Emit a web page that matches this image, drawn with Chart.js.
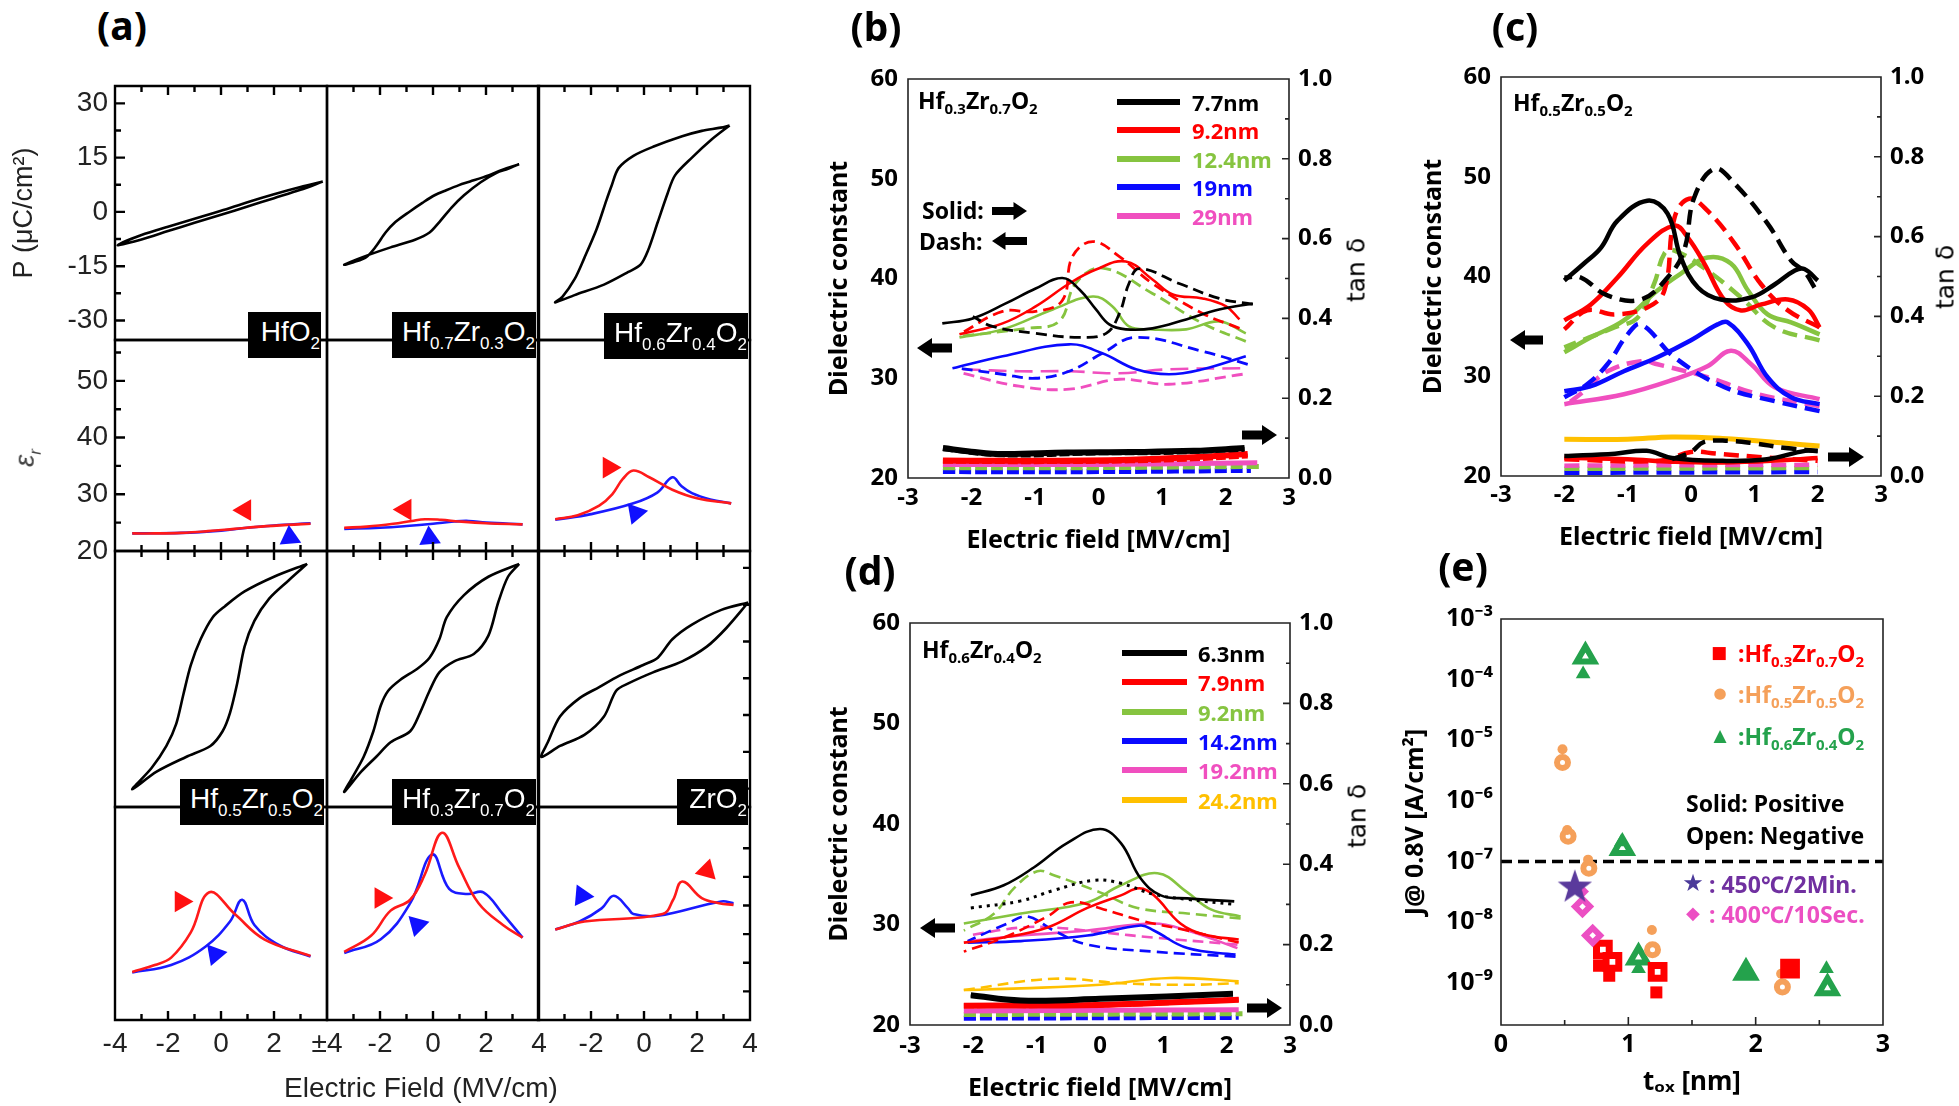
<!DOCTYPE html>
<html><head><meta charset="utf-8">
<script src="https://cdn.jsdelivr.net/npm/chart.js@4.4.1/dist/chart.umd.min.js"></script>
<style>
body{margin:0;width:1959px;height:1106px;background:#fff;position:relative;overflow:hidden;font-family:"Noto Sans","Noto Sans CJK KR",sans-serif;}
canvas{position:absolute;}
.ov{position:absolute;white-space:nowrap;z-index:5;}
.pl{font-weight:bold;font-size:39px;transform:translate(-50%,-50%);line-height:1;}
.lb{background:#000;color:#fff;font-family:"Liberation Sans",Arial,sans-serif;font-size:28px;text-align:right;line-height:40px;height:46px;box-sizing:border-box;padding-right:1px;overflow:hidden;}
.lb sub{font-size:17px;vertical-align:-8px;line-height:0;}
.fm{font-weight:bold;font-size:23px;line-height:1;transform:translateY(-50%);}
.fm sub{font-size:15px;vertical-align:-5px;line-height:0;}
.lg{font-weight:bold;font-size:22px;line-height:1;transform:translateY(-50%);}
.ax{font-family:"Liberation Sans",Arial,sans-serif;color:#222;}
.tan{font-family:"DejaVu Sans",sans-serif;font-size:25px;transform:translate(-50%,-50%) rotate(-90deg);line-height:1;}
</style></head><body>
<script>
// ---------------- DATA ----------------
// (a) P-E loops [E (MV/cm), P (uC/cm2)]  (sweep down then up)
const pe_HfO2 = [[3.84,8.4],[3,6.9],[2,4.9],[1,2.7],[0,0.3],[-1,-1.9],[-2,-4.1],[-3,-6.4],[-3.9,-9.2],[-3,-7.6],[-2,-5.3],[-1,-3.0],[0,-0.8],[1,1.5],[2,3.8],[3,6.1],[3.84,8.4]];
const pe_Hf07 = [[3.25,13.2],[2.6,11.6],[2.09,10.1],[1.4,8.4],[0.98,7.4],[0.5,6.0],[0.06,4.6],[-0.4,2.5],[-0.86,0.2],[-1.42,-2.8],[-1.79,-5.7],[-2.15,-9.5],[-2.52,-12.5],[-3.0,-13.9],[-3.35,-14.6],[-2.9,-13.2],[-2.4,-11.8],[-1.6,-9.8],[-0.68,-7.7],[-0.13,-5.7],[0.24,-2.8],[0.7,1.2],[1.17,4.6],[1.8,8.2],[2.4,10.8],[2.83,11.9],[3.25,13.2]];
const pe_Hf06 = [[3.23,23.9],[2.9,23.3],[2.18,22.4],[1.44,20.9],[0.34,18.0],[-0.40,15.5],[-0.96,12.1],[-1.23,7.1],[-1.42,3.2],[-1.79,-4.8],[-2.25,-12.7],[-2.62,-18.6],[-3.08,-23.5],[-3.35,-25],[-2.62,-23],[-1.51,-20.1],[-0.59,-16.6],[-0.13,-14.6],[0.15,-10.7],[0.52,-2.8],[0.89,5.1],[1.17,10.1],[1.81,15.0],[2.55,20.0],[3.23,23.9]];
const pe_Hf05 = [[3.25,31.1],[2.0,27.6],[0.89,23.6],[0.15,19.6],[-0.31,16.6],[-0.77,10.6],[-1.14,3.6],[-1.42,-4.4],[-1.69,-12.4],[-2.06,-18.4],[-2.62,-24.4],[-3.35,-30.2],[-2.43,-25.4],[-1.32,-21.4],[-0.40,-18.4],[0.06,-14.4],[0.34,-9.4],[0.61,-1.4],[0.89,8.6],[1.26,15.6],[1.81,21.6],[2.55,26.6],[3.25,31.1]];
const pe_Hf03 = [[3.25,31.1],[2.09,27.6],[1.17,22.6],[0.52,16.6],[0.24,10.6],[-0.13,5.6],[-0.59,2.6],[-1.23,-0.4],[-1.69,-3.4],[-1.97,-7.4],[-2.25,-14.4],[-2.62,-21.4],[-3.08,-27.4],[-3.35,-30.9],[-2.71,-25.4],[-2.15,-21.4],[-1.60,-17.4],[-0.86,-14.4],[-0.49,-9.4],[-0.13,-3.4],[0.24,1.6],[0.80,4.6],[1.54,6.6],[2.09,11.6],[2.46,20.6],[2.83,27.6],[3.25,31.1]];
const pe_ZrO2 = [[3.93,20.6],[2.92,18.6],[1.81,14.6],[1.07,10.6],[0.52,5.6],[-0.03,3.6],[-0.96,0.6],[-1.69,-2.4],[-2.43,-5.4],[-3.17,-10.4],[-3.63,-17.4],[-3.87,-21.4],[-3.17,-18.4],[-2.25,-15.4],[-1.51,-10.4],[-1.05,-3.4],[-0.59,-1.4],[0.34,1.6],[1.44,4.6],[2.37,8.6],[3.10,13.6],[3.93,20.6]];
// (a) permittivity curves: red (down sweep), blue (up sweep)
const er_HfO2_r = [[-3.35,23.1],[-2.5,23.1],[-1.5,23.2],[-0.5,23.5],[0.5,23.9],[1.5,24.3],[2.5,24.6],[3.38,24.8]];
const er_HfO2_b = [[-3.35,23.1],[-1.5,23.2],[0,23.6],[1,24.1],[2,24.5],[3.38,24.9]];
const er_Hf07_r = [[-3.35,24.1],[-2.5,24.3],[-1.5,24.8],[-0.8,25.3],[-0.3,25.6],[0.3,25.5],[1,25.2],[2,24.9],[3.38,24.7]];
const er_Hf07_b = [[-3.35,23.9],[-2,24.1],[-1,24.4],[0,24.8],[0.8,25.2],[1.35,25.3],[2,25.0],[3.38,24.7]];
const er_Hf06_r = [[-3.35,25.6],[-2.5,26.3],[-1.69,28.0],[-1.2,30.0],[-0.8,32.7],[-0.4,34.2],[0.2,33.0],[1.07,30.8],[2,29.3],[3.29,28.4]];
const er_Hf06_b = [[-3.35,25.5],[-2,26.5],[-0.4,28.4],[0.5,30.3],[1.07,33.0],[1.4,31.5],[1.81,30.2],[2.5,29.1],[3.29,28.4]];
const er_Hf05_r = [[-3.35,28.4],[-2.5,29.6],[-1.88,30.9],[-1.14,35.3],[-0.44,42.3],[0.52,38.5],[1.63,34.1],[3.38,31.2]];
const er_Hf05_b = [[-3.35,28.3],[-1.88,29.6],[-0.59,32.8],[0.34,37.2],[0.80,41.0],[1.26,36.6],[2.18,33.1],[3.38,31.1]];
const er_Hf03_r = [[-3.35,31.9],[-2.34,34.7],[-1.60,39.1],[-0.86,41.0],[-0.31,45.4],[0.34,52.7],[0.98,46.7],[1.72,40.4],[2.64,36.6],[3.38,34.4]];
const er_Hf03_b = [[-3.35,31.7],[-1.97,34.1],[-0.86,40.4],[-0.03,48.9],[0.61,42.9],[1.3,42.0],[1.90,42.3],[2.64,38.5],[3.38,34.4]];
const er_ZrO2_r = [[-3.35,35.8],[-2.25,37.2],[0.70,38.5],[1.1,41.0],[1.44,44.2],[2.18,41.3],[2.83,40.4],[3.38,40.1]];
const er_ZrO2_b = [[-3.35,35.8],[-2.43,37.2],[-1.6,39.5],[-1.14,41.7],[-0.6,39.5],[-0.40,38.5],[0.52,38.2],[2.92,40.7],[3.38,40.4]];
// sweep-direction markers [E, eps_r, rotation]
const tri_red  = [[0.9,27.2,270],[-1.05,27.3,270],[-1.32,34.7,210],[-1.51,40.7,210],[-1.97,41.3,210],[2.37,46.1,135]];
const tri_blue = [[2.6,22.4,235],[-0.13,22.3,235],[-0.31,26.7,200],[-0.22,31.5,200],[-0.59,36.6,195],[-2.34,41.7,215]];
const a_names = ['HfO<sub>2</sub>','Hf<sub>0.7</sub>Zr<sub>0.3</sub>O<sub>2</sub>','Hf<sub>0.6</sub>Zr<sub>0.4</sub>O<sub>2</sub>','Hf<sub>0.5</sub>Zr<sub>0.5</sub>O<sub>2</sub>','Hf<sub>0.3</sub>Zr<sub>0.7</sub>O<sub>2</sub>','ZrO<sub>2</sub>'];
const a_P_ticks = [-30,-15,0,15,30];
const a_E_ticks = [-4,-2,0,2,4];
const a_er_ticks = [20,30,40,50];

// (b) Hf0.3Zr0.7O2 : dielectric constant (solid = up sweep, dash = down sweep), tan delta
const b_labels = ['7.7nm','9.2nm','12.4nm','19nm','29nm'];
const b_K_s = [[-2.46,35.5],[-1.98,36.0],[-1.46,37.5],[-0.99,39.0],[-0.57,40.05],[-0.30,38.9],[-0.04,36.9],[0.17,35.4],[0.43,34.9],[0.85,35.0],[1.38,35.9],[1.90,36.9],[2.43,37.5]];
const b_K_d = [[2.43,37.4],[1.90,38.0],[1.27,39.5],[0.64,41.0],[0.48,39.5],[0.33,36.5],[0.12,34.5],[-0.30,34.1],[-0.99,34.5],[-1.67,35.2],[-1.98,36.2]];
const b_R_s = [[-2.19,34.4],[-1.51,35.5],[-0.99,37.2],[-0.46,39.5],[-0.04,40.9],[0.43,41.7],[0.85,39.9],[1.17,38.4],[1.64,38.0],[2.01,37.2],[2.22,35.9]];
const b_R_d = [[2.22,35.0],[1.64,36.5],[0.85,39.5],[0.33,42.2],[-0.09,43.7],[-0.41,42.2],[-0.57,37.8],[-0.99,36.7],[-1.51,36.7],[-2.19,34.4]];
const b_G_s = [[-2.19,34.1],[-1.51,34.9],[-0.72,36.9],[-0.09,38.2],[0.22,37.2],[0.48,35.2],[0.85,34.9],[1.38,34.9],[1.90,35.7],[2.32,34.5]];
const b_G_d = [[2.32,33.7],[1.64,35.5],[0.85,38.5],[0.06,41.05],[-0.36,39.5],[-0.62,35.7],[-1.14,35.0],[-2.19,34.2]];
const b_B_s = [[-2.30,31.0],[-1.51,32.2],[-0.46,33.4],[0.06,32.5],[0.59,30.9],[1.11,30.4],[1.64,30.9],[2.32,32.2]];
const b_B_d = [[2.35,31.4],[1.64,32.7],[0.59,34.1],[0.06,32.5],[-0.46,30.7],[-0.99,30.0],[-1.51,30.4],[-2.19,31.0]];
const b_P_s = [[-2.14,30.9],[-1.25,30.7],[-0.46,30.7],[0.33,30.5],[1.11,30.9],[2.27,31.0]];
const b_P_d = [[2.27,30.4],[1.11,29.4],[0.33,29.9],[-0.46,28.9],[-1.25,29.2],[-2.14,30.5]];
const b_tK_s = [[-2.45,0.075],[-2.0,0.066],[-1.5,0.06],[-0.5,0.064],[0.5,0.065],[1.5,0.068],[2.3,0.075]];
const b_tK_d = [[-2.45,0.073],[-1.5,0.058],[0,0.063],[1,0.064],[2.3,0.072]];
const b_tR_s = [[-2.45,0.044],[-1,0.043],[0.5,0.046],[1.5,0.052],[2.35,0.06]];
const b_tR_d = [[-2.45,0.042],[-1,0.041],[0.5,0.043],[1.5,0.048],[2.35,0.055]];
const b_tP = [[-2.45,0.034],[0,0.034],[2.5,0.038]];
const b_tG = [[-2.45,0.026],[0,0.026],[2.55,0.029]];
const b_tB = [[-2.45,0.016],[0,0.016],[2.4,0.019]];

// (c) Hf0.5Zr0.5O2
const c_K_s = [[-2.0,39.6],[-1.69,41.3],[-1.42,42.9],[-1.16,45.6],[-0.69,47.6],[-0.37,46.3],[-0.16,41.9],[0.11,38.9],[0.47,37.7],[0.95,37.9],[1.32,39.2],[1.64,40.6],[1.79,40.75],[2.0,39.6]];
const c_K_d = [[1.95,38.9],[1.79,40.5],[1.58,41.6],[1.21,45.3],[0.69,49.3],[0.37,50.8],[0.05,47.9],[-0.11,42.6],[-0.37,39.9],[-0.79,37.7],[-1.32,38.1],[-1.74,39.9],[-2.0,39.9]];
const c_R_s = [[-2.0,35.6],[-1.58,37.2],[-1.16,39.9],[-0.69,43.3],[-0.26,45.1],[-0.05,43.9],[0.21,41.3],[0.53,37.6],[0.79,36.6],[1.11,37.2],[1.53,37.7],[1.85,36.7],[2.03,34.9]];
const c_R_d = [[2.03,34.9],[1.53,36.6],[1.11,39.2],[0.69,43.3],[0.26,46.6],[-0.03,47.8],[-0.26,45.9],[-0.42,38.6],[-0.69,36.9],[-1.21,36.2],[-1.64,36.6],[-2.0,34.7]];
const c_G_s = [[-2.0,32.4],[-1.58,33.9],[-1.06,35.6],[-0.53,38.6],[-0.16,40.3],[0.26,41.9],[0.63,41.3],[0.90,38.6],[1.21,36.2],[1.58,35.4],[2.03,34.2]];
const c_G_d = [[2.03,33.6],[1.32,34.9],[0.79,37.9],[0.26,40.6],[-0.26,42.6],[-0.42,42.3],[-0.58,39.3],[-0.84,35.9],[-1.21,34.9],[-2.0,32.9]];
const c_B_s = [[-2.0,28.5],[-1.58,29.0],[-1.06,30.5],[-0.53,31.9],[0,33.6],[0.42,35.2],[0.58,35.4],[0.90,33.2],[1.21,29.9],[1.58,27.9],[2.03,27.2]];
const c_B_d = [[2.03,26.5],[1.32,27.5],[0.53,28.9],[-0.26,31.9],[-0.79,35.2],[-1.0,34.2],[-1.32,31.2],[-1.64,29.2],[-2.0,27.9]];
const c_P_s = [[-2.0,27.2],[-1.06,28.2],[-0.26,29.7],[0.26,31.0],[0.63,32.55],[0.95,31.2],[1.32,28.9],[2.03,27.7]];
const c_P_d = [[2.03,27.0],[1.06,28.2],[0.26,29.9],[-0.53,31.2],[-0.79,31.5],[-1.32,30.5],[-1.69,28.5],[-2.0,27.0]];
const c_tO = [[-2,0.092],[-1,0.092],[-0.3,0.098],[0.5,0.094],[1.5,0.082],[2.03,0.075]];
const c_tK_s = [[-2,0.05],[-1.2,0.056],[-0.7,0.063],[-0.3,0.045],[0.5,0.038],[1.2,0.042],[1.8,0.063],[2,0.062]];
const c_tK_d = [[-0.3,0.042],[0,0.06],[0.2,0.085],[0.6,0.088],[1,0.082],[1.5,0.07],[2,0.063]];
const c_tR_s = [[-2,0.046],[-1,0.042],[-0.3,0.036],[0.5,0.034],[1.5,0.04],[2,0.045]];
const c_tR_d = [[-2,0.042],[-0.5,0.038],[0,0.06],[0.4,0.056],[1.2,0.046],[2,0.038]];
const c_tP = [[-2,0.026],[2,0.028]];
const c_tG = [[-2,0.018],[2,0.02]];
const c_tB = [[-2,0.008],[2,0.01]];

// (d) Hf0.6Zr0.4O2
const d_labels = ['6.3nm','7.9nm','9.2nm','14.2nm','19.2nm','24.2nm'];
const d_K_s = [[-2.04,32.9],[-1.52,33.9],[-1.04,35.7],[-0.52,38.1],[0,39.5],[0.33,38.1],[0.64,34.6],[0.96,32.9],[1.38,32.6],[2.12,32.3]];
const d_K_dot = [[-2.04,31.65],[-1.25,32.35],[-0.73,33.4],[-0.09,34.4],[0.33,34.1],[0.85,33.0],[1.38,32.5],[2.12,32.0]];
const d_R_s = [[-2.15,28.2],[-1.52,28.7],[-0.83,29.7],[-0.2,31.65],[0.33,32.9],[0.62,33.6],[0.85,32.9],[1.27,30.1],[1.64,29.0],[2.19,28.5]];
const d_R_d = [[2.19,28.2],[1.38,29.4],[0.64,30.4],[0.06,31.5],[-0.46,32.2],[-0.83,30.8],[-1.52,28.7],[-2.15,27.3]];
const d_G_s = [[-2.15,30.1],[-1.25,31.1],[-0.2,32.2],[0.33,33.9],[0.91,35.1],[1.38,33.2],[1.75,31.5],[2.22,30.8]];
const d_G_d = [[2.22,30.6],[1.38,31.1],[0.59,31.65],[0,33.2],[-0.73,34.9],[-0.99,35.3],[-1.36,33.6],[-1.67,31.1],[-2.15,29.4]];
const d_B_s = [[-2.09,28.2],[-1.25,28.35],[-0.2,28.9],[0.64,29.9],[0.85,29.4],[1.38,27.65],[2.14,27.0]];
const d_B_d = [[2.14,26.8],[0.85,27.3],[-0.2,28.0],[-0.73,29.4],[-1.15,30.8],[-1.46,30.1],[-2.09,28.35]];
const d_P_s = [[-2.09,28.35],[-1.25,28.9],[-0.2,29.4],[0.85,30.1],[1.38,29.4],[2.17,27.65]];
const d_P_d = [[2.17,28.0],[0.85,28.7],[0.06,29.2],[-0.73,29.7],[-1.25,29.7],[-2.09,28.9]];
const d_tO_s = [[-2.15,0.087],[-1.25,0.091],[0,0.1],[1.1,0.117],[2.19,0.109]];
const d_tO_d = [[-2.15,0.087],[-0.73,0.115],[0.33,0.104],[1.38,0.1],[2.19,0.104]];
const d_tK = [[-2.04,0.074],[-1.25,0.061],[0,0.065],[2.1,0.078]];
const d_tR = [[-2.15,0.048],[0,0.05],[2.19,0.063]];
const d_tP = [[-2.15,0.035],[2.19,0.038]];
const d_tG = [[-2.15,0.026],[2.25,0.028]];
const d_tB = [[-2.15,0.017],[2.19,0.019]];

// (e) leakage current density J @ 0.8 V vs t_ox [nm, A/cm2]
const e_R_pos = [[0.77,1.9e-9],[0.85,1.3e-9],[1.22,6.9e-10],[2.25,1.65e-9]];
const e_R_neg = [[0.80,3.5e-9],[0.875,2.2e-9],[1.23,1.5e-9],[2.27,1.7e-9]];
const e_O_pos = [[0.483,7.1e-6],[0.52,3.3e-7],[0.684,1.07e-7],[1.185,7.4e-9],[2.20,1.4e-9]];
const e_O_neg = [[0.483,4.3e-6],[0.527,2.6e-7],[0.69,7.7e-8],[1.19,3.5e-9],[2.21,8.5e-10]];
const e_G_pos = [[0.645,1.24e-4],[0.945,2.1e-7],[1.08,1.7e-9],[1.92,1.5e-9],[2.556,1.7e-9]];
const e_G_neg = [[0.663,2.4e-4],[0.953,1.66e-7],[1.08,2.6e-9],[1.924,1.45e-9],[2.564,8.1e-10]];
const e_star = [[0.58,4.0e-8]];
const e_D_pos = [[0.64,3.2e-8]];
const e_D_neg = [[0.64,1.8e-8],[0.72,6.0e-9]];
const e_limit = [[0,1e-7],[3,1e-7]];
const e_yTicks = [1e-9,1e-8,1e-7,1e-6,1e-5,1e-4,1e-3];
const e_xTicks = [0,1,2,3];

// ---------------- HELPERS ----------------
Chart.defaults.animation = false;
Chart.defaults.responsive = false;
Chart.defaults.devicePixelRatio = 1;
Chart.defaults.events = [];
const FA = '"Liberation Sans", Arial, sans-serif';
const FB = '"Noto Sans", "Noto Sans CJK KR", sans-serif';
const fa = s => ({family: FA, size: s});
const fb = s => ({family: FB, size: s, weight: 'bold'});
const FRAMES = {};
const K='#000', R='#ff0000', G='#86c440', B='#0a0aff', P='#f04fbf', O='#ffc000';

Chart.register({
  id: 'frame',
  afterDatasetsDraw(chart) {
    const o = FRAMES[chart.canvas.id]; if (!o) return;
    const {ctx, chartArea: a, scales} = chart;
    ctx.save();
    ctx.strokeStyle = o.color || '#000'; ctx.lineWidth = o.lw || 2; ctx.lineCap = 'square';
    const s = o.sides || 'ltrb';
    ctx.beginPath();
    if (s.includes('t')) { ctx.moveTo(a.left, a.top); ctx.lineTo(a.right, a.top); }
    if (s.includes('b')) { ctx.moveTo(a.left, a.bottom); ctx.lineTo(a.right, a.bottom); }
    if (s.includes('l')) { ctx.moveTo(a.left, a.top); ctx.lineTo(a.left, a.bottom); }
    if (s.includes('r')) { ctx.moveTo(a.right, a.top); ctx.lineTo(a.right, a.bottom); }
    ctx.stroke();
    ctx.lineCap = 'butt'; ctx.lineWidth = o.tlw || o.lw || 2;
    (o.ticks || []).forEach(t => {
      const sc = scales[t.scale];
      ctx.beginPath();
      t.values.forEach(v => {
        const p = sc.getPixelForValue(v);
        if (t.side === 'bottom') { ctx.moveTo(p, a.bottom); ctx.lineTo(p, a.bottom - t.len); }
        else if (t.side === 'top') { ctx.moveTo(p, a.top); ctx.lineTo(p, a.top + t.len); }
        else if (t.side === 'left') { ctx.moveTo(a.left, p); ctx.lineTo(a.left + t.len, p); }
        else { ctx.moveTo(a.right, p); ctx.lineTo(a.right - t.len, p); }
      });
      ctx.stroke();
    });
    ctx.restore();
  }
});

function axisCfg(s) {
  return {
    type: s.type || 'linear', position: s.position, min: s.min, max: s.max,
    display: (s.size || 0) > 0,
    grid: {display: false, drawTicks: false},
    border: {display: false},
    ticks: {display: !!s.labels, font: s.font, color: s.color || '#000', padding: s.pad || 0,
      autoSkip: false, maxRotation: 0, minRotation: 0,
      callback: v => s.labels ? s.labels(v) : ''},
    afterBuildTicks: ax => { ax.ticks = (s.ticks || []).map(v => ({value: v})); },
    afterFit: ax => { if (ax.isHorizontal()) ax.height = s.size || 0; else ax.width = s.size || 0; },
    title: s.title ? {display: true, text: s.title, font: s.tfont, color: s.color || '#000',
      padding: {top: s.tpt || 0, bottom: s.tpb || 0}} : {display: false}
  };
}
let NC = 0;
function mk(area, m, scales, datasets, frame) {
  const cv = document.createElement('canvas');
  cv.id = 'c' + (NC++);
  cv.width = Math.round(area[2] + m[0] + m[2]); cv.height = Math.round(area[3] + m[1] + m[3]);
  cv.style.left = (area[0] - m[0]) + 'px'; cv.style.top = (area[1] - m[1]) + 'px';
  document.body.appendChild(cv);
  FRAMES[cv.id] = frame;
  const used = {left: 0, top: 0, right: 0, bottom: 0}, sc = {};
  for (const k in scales) { used[scales[k].position] += scales[k].size || 0; sc[k] = axisCfg(scales[k]); }
  return new Chart(cv, {type: 'line', data: {datasets},
    options: {layout: {padding: {left: m[0] - used.left, top: m[1] - used.top, right: m[2] - used.right, bottom: m[3] - used.bottom}},
      scales: sc, plugins: {legend: {display: false}, tooltip: {enabled: false}}}});
}
const pts = a => a.map(([x, y]) => ({x, y}));
function ln(d, c, w, dash, ax, ten) {
  return {data: pts(d), borderColor: c, borderWidth: w, borderDash: dash || [], pointRadius: 0, fill: false,
    tension: ten === undefined ? 0.4 : ten, yAxisID: ax || 'y', borderCapStyle: 'butt', borderJoinStyle: 'round'};
}
function mks(d, style, c, r, open, bw) {
  return {data: pts(d), showLine: false, pointStyle: style, pointRadius: r,
    backgroundColor: open ? '#fff' : c, borderColor: c, borderWidth: open ? bw : 0};
}
function div(cls, x, y, html, style) {
  const e = document.createElement('div'); e.className = 'ov ' + cls;
  e.style.left = x + 'px'; e.style.top = y + 'px'; if (style) e.style.cssText += style;
  e.innerHTML = html; document.body.appendChild(e); return e;
}
function arrow(x1, x2, y, dir, h) {
  h = h || 20; const L = x2 - x1, sh = h * 0.45, hl = h * 0.75;
  let p = [[0,-sh/2],[L-hl,-sh/2],[L-hl,-h/2],[L,0],[L-hl,h/2],[L-hl,sh/2],[0,sh/2]];
  if (dir < 0) p = p.map(([a, b]) => [L - a, b]);
  const s = `<svg width="${L}" height="${h}" viewBox="0 ${-h/2} ${L} ${h}" style="display:block"><polygon fill="#000" points="${p.map(q => q.join(',')).join(' ')}"/></svg>`;
  div('', x1, y - h/2, s);
}

// ---------------- PANEL (a) ----------------
const colX = [115, 326.5, 538], colW = 211.5;
const rowsA = [{pT: 86, pH: 254, pMin: -35.4, pMax: 34.8, eT: 340, eH: 211},
               {pT: 551, pH: 256, pMin: -35, pMax: 34.6, eT: 807, eH: 213}];
const loops = [pe_HfO2, pe_Hf07, pe_Hf06, pe_Hf05, pe_Hf03, pe_ZrO2];
const ersR = [er_HfO2_r, er_Hf07_r, er_Hf06_r, er_Hf05_r, er_Hf03_r, er_ZrO2_r];
const ersB = [er_HfO2_b, er_Hf07_b, er_Hf06_b, er_Hf05_b, er_Hf03_b, er_ZrO2_b];
const xLab = [null, null, null,
  {'-4':'-4','-2':'-2','0':'0','2':'2','4':'±4'}, {'-4':'','-2':'-2','0':'0','2':'2','4':'4'}, {'-4':'','-2':'-2','0':'0','2':'2','4':'4'}];
const xMaj = [-2, 0, 2], xMin = [-3, -1, 1, 3];
for (let i = 0; i < 6; i++) {
  const r = i < 3 ? 0 : 1, c = i % 3, row = rowsA[r];
  const first = (i === 0), last = (i === 5);
  // P-E
  const pTicks = [{scale: 'x', side: 'top', values: xMaj, len: 9}, {scale: 'x', side: 'top', values: xMin, len: 6}];
  if (first) { pTicks.push({scale: 'y', side: 'left', values: a_P_ticks, len: 10}, {scale: 'y', side: 'left', values: [-22.5,-7.5,7.5,22.5], len: 6}); }
  if (last) pTicks.push({scale: 'y', side: 'right', values: [-30,-20,-10,0,10,20,30], len: 7});
  mk([colX[c], row.pT, colW, row.pH], [first ? colX[0] : 30, 34, 30, 34],
    {x: {position: 'bottom', min: -4, max: 4, size: 0},
     y: {position: 'left', min: row.pMin, max: row.pMax, size: first ? colX[0] : 0, ticks: a_P_ticks,
         labels: first ? (v => String(v)) : null, font: fa(28), color: '#222', pad: 7,
         title: first ? 'P (μC/cm²)' : null, tfont: fa(27), tpt: 8}},
    [ln(loops[i], '#000', 2.6, null, 'y', 0.3)],
    {lw: 2.4, ticks: pTicks});
  // permittivity
  const eTicks = [{scale: 'x', side: 'bottom', values: xMaj, len: 9}, {scale: 'x', side: 'bottom', values: xMin, len: 6}];
  if (first) { eTicks.push({scale: 'y', side: 'left', values: [30,40,50], len: 10}, {scale: 'y', side: 'left', values: [25,35,45,55], len: 6}); }
  if (last) eTicks.push({scale: 'y', side: 'right', values: [25,30,35,40,45,50], len: 7});
  const lab = xLab[i];
  mk([colX[c], row.eT, colW, row.eH], [first ? colX[0] : 30, 34, 30, r === 1 ? 72 : 34],
    {x: {position: 'bottom', min: -4, max: 4, size: r === 1 ? 72 : 0, ticks: a_E_ticks,
         labels: lab ? (v => lab[String(v)]) : null, font: fa(28), color: '#222', pad: 7.5},
     y: {position: 'left', min: 20, max: 57.2, size: first ? colX[0] : 0, ticks: a_er_ticks,
         labels: first ? (v => String(v)) : null, font: fa(28), color: '#222', pad: 7}},
    [mks([[tri_red[i][0], tri_red[i][1]]], 'triangle', '#ff1010', 12.5, false),
     mks([[tri_blue[i][0], tri_blue[i][1]]], 'triangle', '#1010ff', 12.5, false),
     ln(ersR[i], '#ff1a1a', 2.6), ln(ersB[i], '#1a1aff', 2.6)].map((d, k) => {
       if (k === 0) d.rotation = tri_red[i][2]; if (k === 1) d.rotation = tri_blue[i][2]; return d; }),
    {lw: 2.4, ticks: eTicks});
}
const boxes = [[248,312,73],[392,312,144],[604,313,144],[180,779,144],[392,779,144],[677,779,71]];
boxes.forEach((b, k) => div('lb', b[0], b[1], a_names[k], `width:${b[2]}px;`));
div('ax', 421, 1088, 'Electric Field (MV/cm)', 'font-size:28px;transform:translate(-50%,-50%);line-height:1;');
div('ax', 27, 458, '<i>ε</i><sub style="font-size:17px;font-style:italic">r</sub>', 'font-size:28px;color:#444;transform:translate(-50%,-50%) rotate(-90deg);line-height:1;');

// ---------------- PANELS (b)(c)(d) ----------------
const xField = [-3,-2,-1,0,1,2,3], yDiel = [20,30,40,50,60], yTan = [0,0.2,0.4,0.6,0.8,1.0];
function dielAxes(ySize, xSize, xPad) {
  return {
    x: {position: 'bottom', min: -3, max: 3, size: xSize, ticks: xField, labels: v => String(v), font: fb(24), pad: xPad,
        title: 'Electric field [MV/cm]', tfont: fb(25)},
    y: {position: 'left', min: 20, max: 60, size: ySize, ticks: yDiel, labels: v => String(v), font: fb(24), pad: 10,
        title: 'Dielectric constant', tfont: fb(25)},
    y2: {position: 'right', min: 0, max: 1, size: 50, ticks: yTan, labels: v => v.toFixed(1), font: fb(24), pad: 9}
  };
}
const tanTicks = [{scale: 'y2', side: 'right', values: [0.2,0.4,0.6,0.8], len: 7}, {scale: 'y2', side: 'right', values: [0.1,0.3,0.5,0.7,0.9], len: 4}];
const DS = [11, 6];
// (b)
mk([908, 79, 381, 399], [83, 34, 60, 83], dielAxes(83, 78, 5.6), [
  ln(b_K_s, K, 2.6), ln(b_K_d, K, 2.8, DS), ln(b_R_s, R, 2.6), ln(b_R_d, R, 2.8, DS),
  ln(b_G_s, G, 2.6), ln(b_G_d, G, 2.8, DS), ln(b_B_s, B, 2.6), ln(b_B_d, B, 2.8, DS),
  ln(b_P_s, P, 2.6, [18, 8]), ln(b_P_d, P, 2.8, DS),
  ln(b_tK_d, K, 5, [10, 3], 'y2'), ln(b_tK_s, K, 6, null, 'y2'),
  ln(b_tR_d, R, 5, [10, 3], 'y2'), ln(b_tR_s, R, 6, null, 'y2'),
  ln(b_tP, P, 5, null, 'y2'), ln(b_tG, G, 5, [12, 4], 'y2'), ln(b_tB, B, 5, [12, 4], 'y2')
], {lw: 1.6, color: '#222', tlw: 1.6, ticks: tanTicks});
// (c)
const DC = [15, 8];
mk([1501, 77, 380, 399], [82, 34, 60, 82], dielAxes(82, 77, 4.6), [
  ln(c_K_s, K, 4.5), ln(c_K_d, K, 4.5, DC), ln(c_R_s, R, 4.5), ln(c_R_d, R, 4.5, DC),
  ln(c_G_s, G, 4.5), ln(c_G_d, G, 4.5, DC), ln(c_B_s, B, 4.5), ln(c_B_d, B, 4.5, DC),
  ln(c_P_s, P, 4.5), ln(c_P_d, P, 4.5, DC),
  ln(c_tK_s, K, 4.5, null, 'y2'), ln(c_tK_d, K, 4.5, DC, 'y2'), ln(c_tR_s, R, 4.5, null, 'y2'), ln(c_tR_d, R, 4.5, DC, 'y2'),
  ln(c_tO, O, 5, null, 'y2'), ln(c_tP, P, 4.5, DC, 'y2'), ln(c_tG, G, 4.5, DC, 'y2'), ln(c_tB, B, 4.5, DC, 'y2')
], {lw: 1.6, color: '#222', tlw: 1.6, ticks: tanTicks});
// (d)
mk([910, 623, 380, 402], [85, 34, 60, 83], dielAxes(85, 78.5, 7.1), [
  ln(d_K_s, K, 2.6), ln(d_K_dot, K, 3, [3, 5]), ln(d_R_s, R, 2.6), ln(d_R_d, R, 2.6, DS),
  ln(d_G_s, G, 2.6), ln(d_G_d, G, 2.6, DS), ln(d_B_s, B, 2.6), ln(d_B_d, B, 2.6, DS),
  ln(d_P_s, P, 2.6), ln(d_P_d, P, 2.6, DS),
  ln(d_tO_s, O, 2.6, null, 'y2'), ln(d_tO_d, O, 2.6, DS, 'y2'),
  ln(d_tK, K, 3, [10, 3], 'y2'), ln(d_tK, K, 6, null, 'y2'),
  ln(d_tR, R, 5, [10, 3], 'y2'), ln(d_tR, R, 6, null, 'y2'),
  ln(d_tP, P, 5, null, 'y2'), ln(d_tG, G, 5, [12, 4], 'y2'), ln(d_tB, B, 5, [12, 4], 'y2')
], {lw: 1.6, color: '#222', tlw: 1.6, ticks: tanTicks});

// ---------------- PANEL (e) ----------------
function starImg(size, color) {
  const c = document.createElement('canvas'); c.width = c.height = size;
  const g = c.getContext('2d'); g.fillStyle = color; g.beginPath();
  for (let i = 0; i < 10; i++) { const rr = i % 2 ? size * 0.2 : size * 0.5, a = -Math.PI / 2 + i * Math.PI / 5;
    g.lineTo(size / 2 + rr * Math.cos(a), size / 2 + rr * Math.sin(a) + size * 0.05); }
  g.closePath(); g.fill(); return c;
}
const sup = {'-':'⁻','0':'⁰','1':'¹','2':'²','3':'³','4':'⁴','5':'⁵','6':'⁶','7':'⁷','8':'⁸','9':'⁹'};
const ER = '#ff0000', EO = '#f5a05a', EG = '#24a24c', EPK = '#ec4fc3';
mk([1501, 619, 382, 406], [100, 34, 22, 78], {
  x: {position: 'bottom', min: 0, max: 3, size: 73, ticks: e_xTicks, labels: v => String(v), font: fb(25), pad: 4.8,
      title: 'tₒₓ [nm]', tfont: fb(26)},
  y: {type: 'logarithmic', position: 'left', min: 2e-10, max: 1e-3, size: 100, ticks: e_yTicks,
      labels: v => '10' + String(Math.round(Math.log10(v))).split('').map(ch => sup[ch]).join(''), font: fb(25), pad: 8,
      title: 'J@ 0.8V [A/cm²]', tfont: fb(25)}
}, [
  mks(e_star, starImg(36, '#5a3a9c'), '#5a3a9c', 18, false),
  mks(e_D_pos, 'rectRot', EPK, 6.5, false),
  mks(e_D_neg, 'rectRot', EPK, 7.5, true, 6),
  mks(e_R_pos, 'rect', ER, 8.5, false),
  mks(e_R_neg, 'rect', ER, 9, true, 7),
  mks(e_O_pos, 'circle', EO, 5, false),
  mks(e_O_neg, 'circle', EO, 5.5, true, 6),
  mks(e_G_pos, 'triangle', EG, 8.5, false),
  mks(e_G_neg, 'triangle', EG, 10, true, 6),
  ln(e_limit, '#000', 3.5, [11, 6], 'y', 0)
], {lw: 1.6, color: '#222', tlw: 1.6, ticks: [{scale: 'x', side: 'bottom', values: [1, 2], len: 8}, {scale: 'x', side: 'bottom', values: [0.5, 1.5, 2.5], len: 5}]});

// ---------------- ANNOTATIONS ----------------
div('pl', 122, 24, '(a)'); div('pl', 876, 25, '(b)'); div('pl', 1515, 25, '(c)'); div('pl', 870, 569, '(d)'); div('pl', 1463, 565, '(e)');
div('tan', 1356, 270, 'tan δ'); div('tan', 1945, 277, 'tan δ'); div('tan', 1357, 816, 'tan δ');
div('fm', 918, 100, 'Hf<sub>0.3</sub>Zr<sub>0.7</sub>O<sub>2</sub>');
div('fm', 1513, 102, 'Hf<sub>0.5</sub>Zr<sub>0.5</sub>O<sub>2</sub>');
div('fm', 922, 649, 'Hf<sub>0.6</sub>Zr<sub>0.4</sub>O<sub>2</sub>');
// legends (b) and (d)
const bCol = [K, R, G, B, P], dCol = [K, R, G, B, P, O];
b_labels.forEach((t, k) => { const y = 102 + k * 28.4;
  div('', 1117, y, '', `width:63px;height:6px;background:${bCol[k]};transform:translateY(-50%);`);
  div('lg', 1192, y, t, `color:${bCol[k]}`); });
d_labels.forEach((t, k) => { const y = 653 + k * 29.3;
  div('', 1122, y, '', `width:65px;height:6px;background:${dCol[k]};transform:translateY(-50%);`);
  div('lg', 1198, y, t, `color:${dCol[k]}`); });
div('lg', 922, 210, 'Solid:', 'font-size:23px'); arrow(992, 1027, 211, 1, 18);
div('lg', 919, 241, 'Dash:', 'font-size:23px'); arrow(992, 1027, 241, -1, 18);
arrow(917, 952, 348, -1, 20); arrow(1242, 1277, 435, 1, 20);
arrow(1510, 1543, 340, -1, 20); arrow(1828, 1864, 457, 1, 20);
arrow(920, 955, 928, -1, 20); arrow(1247, 1282, 1008, 1, 20);
// legend (e)
div('lg', 1719, 652, '■', `color:${ER};font-family:'DejaVu Sans';font-size:17px;transform:translate(-50%,-50%)`);
div('lg', 1720, 693, '●', `color:${EO};font-family:'DejaVu Sans';font-size:15px;transform:translate(-50%,-50%)`);
div('lg', 1720, 735, '▲', `color:${EG};font-family:'DejaVu Sans';font-size:17px;transform:translate(-50%,-50%)`);
div('fm', 1738, 653, ':Hf<sub>0.3</sub>Zr<sub>0.7</sub>O<sub>2</sub>', `color:${ER}`);
div('fm', 1738, 694, ':Hf<sub>0.5</sub>Zr<sub>0.5</sub>O<sub>2</sub>', `color:${EO}`);
div('fm', 1738, 736, ':Hf<sub>0.6</sub>Zr<sub>0.4</sub>O<sub>2</sub>', `color:${EG}`);
div('lg', 1686, 803, 'Solid: Positive', 'font-size:23px');
div('lg', 1686, 835, 'Open: Negative', 'font-size:23px');
div('lg', 1693, 883, '★', `color:#4b3a9a;font-family:'DejaVu Sans';font-size:24px;transform:translate(-50%,-50%)`);
div('lg', 1709, 884, ': 450℃/2Min.', 'font-size:23px;color:#7030a0');
div('lg', 1693, 913, '◆', `color:${EPK};font-family:'DejaVu Sans';font-size:18px;transform:translate(-50%,-50%)`);
div('lg', 1709, 914, ': 400℃/10Sec.', `font-size:23px;color:${EPK}`);
</script>
</body></html>
